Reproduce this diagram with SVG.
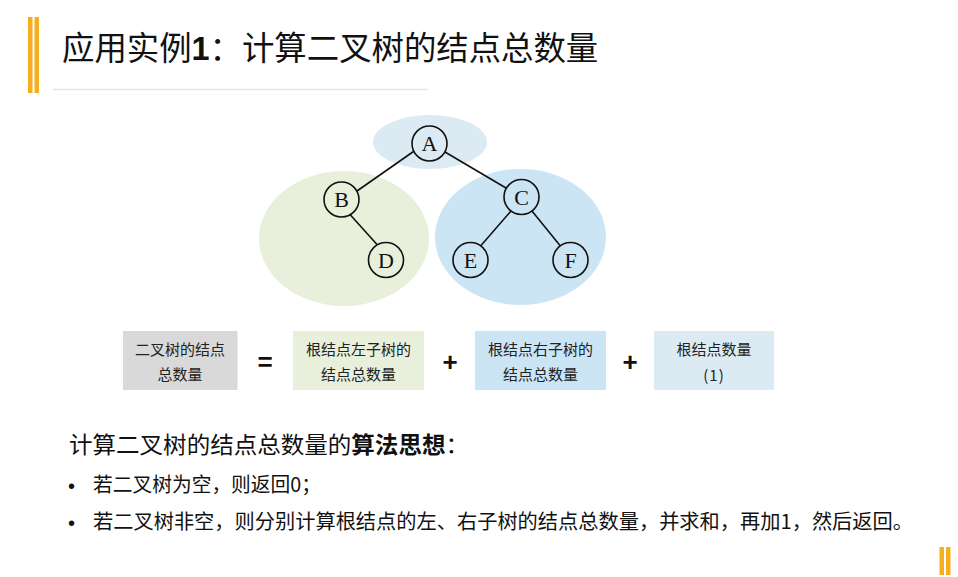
<svg xmlns="http://www.w3.org/2000/svg" width="958" height="577" viewBox="0 0 958 577">
<style>
.cjk{font-family:"Noto Sans CJK SC","Liberation Sans",sans-serif;fill:#111}
.bul{font-family:"Liberation Sans",sans-serif;font-size:20px;fill:#111}
.box{font-family:"Noto Sans CJK SC","Liberation Sans",sans-serif;font-size:15px;fill:#222;text-anchor:middle}
.node circle{fill:none;stroke:#111;stroke-width:1.6}
.node text{font-family:"Liberation Serif","DejaVu Serif",serif;font-size:22px;fill:#111;text-anchor:middle}
.edge{stroke:#111;stroke-width:1.6;fill:none}
.op{font-family:"Liberation Sans",sans-serif;font-weight:bold;font-size:26px;fill:#111;text-anchor:middle}
.bar{fill:#F5AE1E}
</style>
<rect width="958" height="577" fill="#fff"/>
<!-- title decoration -->
<rect class="bar" x="28" y="17" width="4.5" height="76"/>
<rect class="bar" x="34.5" y="17" width="4.5" height="76"/>
<line x1="53" y1="89.5" x2="428" y2="89.5" stroke="#E6E6E6" stroke-width="1.5"/>
<text class="cjk" x="62" y="60" font-size="32.4">应用实例<tspan font-weight="bold" font-family="Liberation Sans,sans-serif">1</tspan>：计算二叉树的结点总数量</text>
<!-- background ellipses -->
<ellipse id="bgA" cx="430" cy="142" rx="57" ry="27" fill="#DCEBF3"/>
<ellipse id="bgLeft" cx="344" cy="238.5" rx="85" ry="67.5" fill="#E8EFDB"/>
<ellipse id="bgRight" cx="520.5" cy="237" rx="85.5" ry="68" fill="#CCE5F5"/>
<!-- connectors -->
<g id="connectors">
<line class="edge" x1="413.5" y1="151.5" x2="357" y2="191"/>
<line class="edge" x1="445" y1="152" x2="506" y2="188"/>
<line class="edge" x1="350" y1="214.5" x2="377" y2="244.5"/>
<line class="edge" x1="511" y1="211" x2="481" y2="245.5"/>
<line class="edge" x1="532" y1="211" x2="560" y2="245.5"/>
</g>
<g id="nodeA" class="node"><circle cx="429.5" cy="143.5" r="17.5"/><text x="429.5" y="151">A</text></g>
<g id="nodeB" class="node"><circle cx="341.5" cy="199.5" r="17.5"/><text x="341.5" y="207">B</text></g>
<g id="nodeC" class="node"><circle cx="521.5" cy="197" r="17.5"/><text x="521.5" y="204.5">C</text></g>
<g id="nodeD" class="node"><circle cx="386" cy="260" r="17.5"/><text x="386" y="267.5">D</text></g>
<g id="nodeE" class="node"><circle cx="470.5" cy="260" r="17.5"/><text x="470.5" y="267.5">E</text></g>
<g id="nodeF" class="node"><circle cx="570.5" cy="260" r="17.5"/><text x="570.5" y="267.5">F</text></g>
<!-- formula boxes -->
<g id="box1"><rect x="123" y="331" width="114.5" height="59" fill="#D9D9D9"/>
<text class="box" x="180" y="355">二叉树的结点</text><text class="box" x="180" y="380">总数量</text></g>
<text class="op" x="265" y="371">=</text>
<g id="box2"><rect x="293" y="331" width="131" height="59" fill="#E8EFDB"/>
<text class="box" x="358.5" y="355">根结点左子树的</text><text class="box" x="358.5" y="380">结点总数量</text></g>
<text class="op" x="450" y="371">+</text>
<g id="box3"><rect x="475" y="331" width="131" height="59" fill="#CCE5F5"/>
<text class="box" x="540.5" y="355">根结点右子树的</text><text class="box" x="540.5" y="380">结点总数量</text></g>
<text class="op" x="630" y="371">+</text>
<g id="box4"><rect x="654" y="331" width="120" height="59" fill="#DCEBF3"/>
<text class="box" x="714" y="355">根结点数量</text><text class="box" x="714" y="381" font-family="Liberation Sans,sans-serif" letter-spacing="1">(1)</text></g>
<!-- text -->
<text class="cjk" x="69" y="453" font-size="23" textLength="400" lengthAdjust="spacingAndGlyphs">计算二叉树的结点总数量的<tspan font-weight="bold">算法思想</tspan>：</text>
<text class="bul" x="68" y="493">•</text>
<text class="cjk" x="93" y="492" font-size="20" textLength="228" lengthAdjust="spacingAndGlyphs">若二叉树为空，则返回0；</text>
<text class="bul" x="68" y="530">•</text>
<text class="cjk" x="93" y="529" font-size="20" textLength="820" lengthAdjust="spacingAndGlyphs">若二叉树非空，则分别计算根结点的左、右子树的结点总数量，并求和，再加1，然后返回。</text>
<!-- corner decoration -->
<rect class="bar" x="939.5" y="547" width="4.5" height="28"/>
<rect class="bar" x="946" y="547" width="4.5" height="28"/>
</svg>
